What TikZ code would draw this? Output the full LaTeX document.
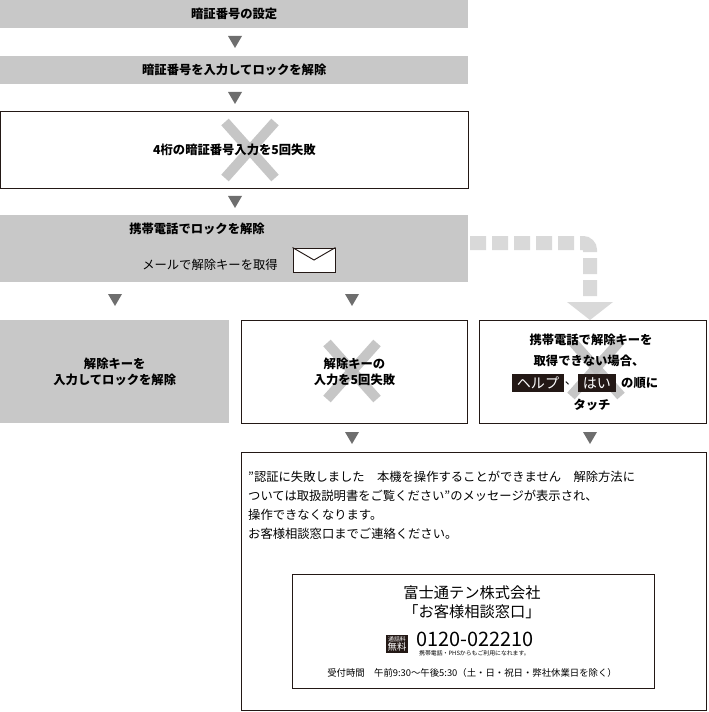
\documentclass[tikz,border=0pt]{standalone}
\usepackage{fontspec}
\setmainfont{Noto Sans CJK JP}
\usetikzlibrary{positioning,calc}
\definecolor{barGray}{HTML}{C8C8C8}
\definecolor{crossGray}{HTML}{BDBDBD}
\definecolor{triGray}{HTML}{6E6E6E}
\definecolor{dashGray}{HTML}{D9D9D9}
\definecolor{edgeDark}{HTML}{231815}
\newcommand{\txt}{\fontsize{10.5}{14}\selectfont}
\tikzset{
    bar/.style={rectangle, fill=barGray, minimum width=468*0.03cm, minimum height=28*0.03cm, inner sep=0pt, font=\txt\bfseries},
    plainbox/.style={rectangle, draw=edgeDark, thick, fill=white, inner sep=0pt},
    graybox/.style={rectangle, fill=barGray, inner sep=0pt},
    tri/.style={fill=triGray},
    cross/.style={line width=10*0.03cm, draw=crossGray, opacity=0.85},
    tag/.style={fill=edgeDark, text=white, inner xsep=4pt, inner ysep=2.5pt, font=\fontsize{12}{14}\selectfont}
}
\newcommand{\downtri}[3]{% x, top y, name
  \fill[tri] (#1-7,#2) -- (#1+7,#2) -- (#1,#2+12) -- cycle;}
\newcommand{\graycross}[2]{%
  \draw[cross] (#1-25,#2-28) -- (#1+25,#2+28);
  \draw[cross] (#1+25,#2-28) -- (#1-25,#2+28);}
\begin{document}
\begin{tikzpicture}[x=0.03cm, y=-0.03cm, every node/.style={font=\txt}]
\useasboundingbox (0,0) rectangle (708,712);

% ====== TOP CHAIN ======
\node[bar, anchor=north west] (set_pin) at (0,0) {暗証番号の設定};
\downtri{235}{36}{t1}
\node[bar, anchor=north west] (enter_pin) at (0,56) {暗証番号を入力してロックを解除};
\downtri{235}{92}{t2}
\node[plainbox, anchor=north west, minimum width=468*0.03cm, minimum height=77*0.03cm] (fail_pin) at (0,111) {};
\graycross{250}{150}
\node[font=\txt\bfseries] (fail_txt) at (fail_pin.center) {4桁の暗証番号入力を5回失敗};
\downtri{235}{196}{t3}

% ====== PHONE UNLOCK ======
\node[graybox, anchor=north west, minimum width=468*0.03cm, minimum height=67*0.03cm] (phone) at (0,215) {};
\node[font=\txt\bfseries] (phone_txt) at (197,229) {携帯電話でロックを解除};
\node (mail_txt) at (210,265) {メールで解除キーを取得};
\node[draw=edgeDark, thick, fill=white, minimum width=42*0.03cm, minimum height=24*0.03cm, inner sep=0pt] (env) at (314,260) {};
\draw[edgeDark, thick] (env.north west) -- (env.center) -- (env.north east);

% dashed detour
\coordinate (d_start) at (470,243);
\coordinate (d_turn) at (590,243);
\coordinate (d_end) at (590,300);
\draw[dashGray, line width=14*0.03cm, dash pattern=on 16*0.03cm off 6*0.03cm, rounded corners=6] (d_start) -- (d_turn) -- (d_end);
\fill[dashGray] (567,302) -- (613,302) -- (590,320) -- cycle;

\downtri{115}{294}{t4}
\downtri{352}{294}{t5}

% ====== THREE CASES ======
\node[graybox, anchor=north west, minimum width=229*0.03cm, minimum height=103*0.03cm, align=center, font=\txt\bfseries] (key_ok) at (0,320) {解除キーを\\入力してロックを解除};
\node[plainbox, anchor=north west, minimum width=226*0.03cm, minimum height=103*0.03cm] (key_fail) at (241,320) {};
\graycross{352}{371}
\node[align=center, font=\txt\bfseries] at (key_fail.center) {解除キーの\\入力を5回失敗};
\node[plainbox, anchor=north west, minimum width=227*0.03cm, minimum height=103*0.03cm] (no_key) at (479,320) {};
\graycross{596}{368}
\node[font=\txt\bfseries] at (591,340) {携帯電話で解除キーを};
\node[font=\txt\bfseries] at (589,361) {取得できない場合、};
\node[tag] (help) at (538,383) {ヘルプ};
\node[right=0pt of help, inner sep=0.5pt] (comma) {、};
\node[tag, right=0pt of comma] (yes) {はい};
\node[right=1pt of yes, font=\txt\bfseries] (order) {の順に};
\node[font=\txt\bfseries] at (592,405) {タッチ};

\downtri{352}{432}{t6}
\downtri{590}{432}{t7}

% ====== RESULT ======
\node[plainbox, anchor=north west, minimum width=465*0.03cm, minimum height=258*0.03cm] (locked) at (241,452) {};
\node[anchor=north west, align=left, inner sep=0pt, font=\fontsize{10.5}{16.2}\selectfont] (lock_msg) at (248,471) {"認証に失敗しました\quad 本機を操作することができません\quad 解除方法に\\ついては取扱説明書をご覧ください"のメッセージが表示され、\\操作できなくなります。\\お客様相談窓口までご連絡ください。};
\node[plainbox, anchor=north west, minimum width=362*0.03cm, minimum height=114*0.03cm] (contact) at (292,574) {};
\node[font=\fontsize{13}{16}\selectfont, align=center] at (472,602) {富士通テン株式会社\\「お客様相談窓口」};
\node[fill=edgeDark, text=white, align=center, inner sep=1.5pt, font=\fontsize{5}{6}\selectfont] (free) at (397,644) {通話料\\{\fontsize{8}{9}\selectfont 無料}};
\node[anchor=south west, inner sep=0pt, font=\fontsize{17}{18}\selectfont] (tel) at (416,647) {0120-022210};
\node[anchor=north west, inner sep=0pt, font=\fontsize{5}{6}\selectfont] (tel_note) at (419,650) {携帯電話・PHSからもご利用になれます。};
\node[font=\fontsize{8}{10}\selectfont] (hours) at (472,673) {受付時間\quad 午前9:30～午後5:30（土・日・祝日・弊社休業日を除く）};
\end{tikzpicture}
\end{document}
